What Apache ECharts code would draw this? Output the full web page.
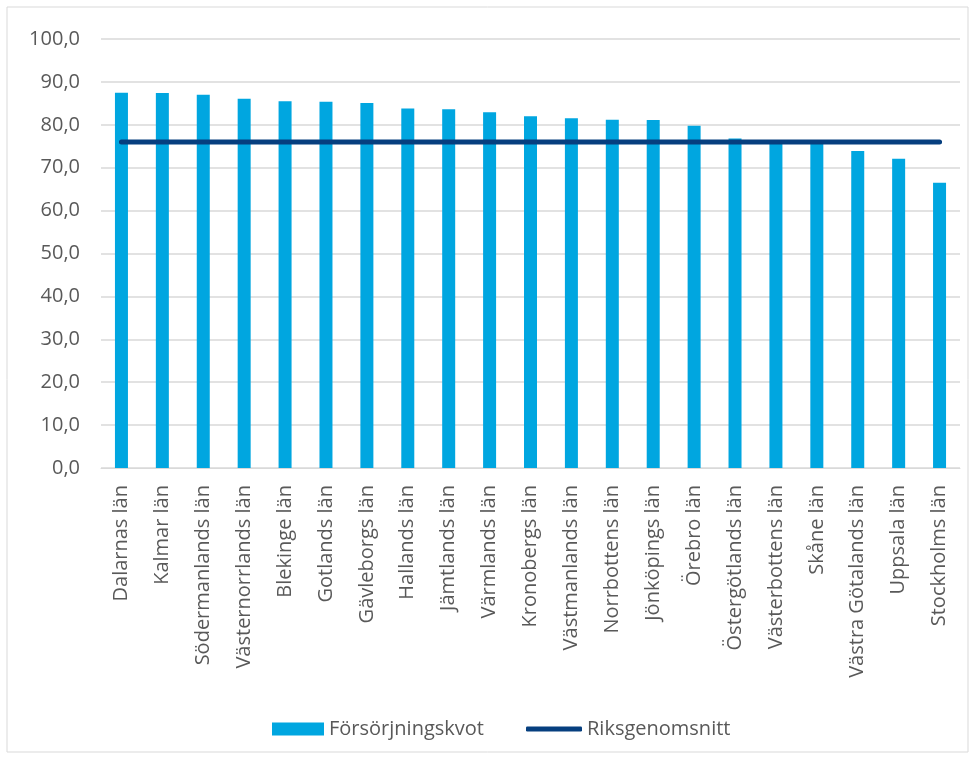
<!DOCTYPE html>
<html>
<head>
<meta charset="utf-8">
<script src="https://cdn.jsdelivr.net/npm/echarts@6/dist/echarts.min.js"></script>
<style>
  html, body { margin: 0; padding: 0; background: #fff; }
  #main { width: 976px; height: 760px; }
</style>
</head>
<body>
<div id="main"></div>
<script>
var lan = ['Dalarnas län', 'Kalmar län', 'Södermanlands län', 'Västernorrlands län', 'Blekinge län',
  'Gotlands län', 'Gävleborgs län', 'Hallands län', 'Jämtlands län', 'Värmlands län',
  'Kronobergs län', 'Västmanlands län', 'Norrbottens län', 'Jönköpings län', 'Örebro län',
  'Östergötlands län', 'Västerbottens län', 'Skåne län', 'Västra Götalands län', 'Uppsala län',
  'Stockholms län'];
var kvot = [87.5, 87.4, 87.0, 86.1, 85.5, 85.4, 85.1, 83.8, 83.6, 82.9,
  82.0, 81.5, 81.2, 81.1, 79.8, 76.8, 76.3, 76.1, 73.9, 72.1, 66.5];
var riksSnitt = 76.0;
var riks = lan.map(function () { return riksSnitt; });

var myChart = echarts.init(document.getElementById('main'));
var txt = '#595959';
var fam = 'Open Sans';
var option = {
  animation: false,
  textStyle: { fontFamily: fam },
  graphic: [{
    type: 'rect',
    shape: { x: 7, y: 7, width: 961, height: 745 },
    style: { fill: 'none', stroke: '#d9d9d9', lineWidth: 1 },
    silent: true
  }],
  grid: { left: 101, right: 16, top: 39, bottom: 292, containLabel: false },
  // två legender, så att linjeikonen kan vara tunnare än stapelikonen
  legend: [{
    left: 267,
    top: 714,
    itemWidth: 52,
    itemHeight: 13,
    textStyle: { color: txt, fontSize: 20, fontFamily: fam },
    data: [{ name: 'Försörjningskvot', icon: 'rect' }]
  }, {
    left: 521,
    top: 714,
    itemWidth: 56,
    itemHeight: 5,
    textStyle: { color: txt, fontSize: 20, fontFamily: fam },
    data: [{ name: 'Riksgenomsnitt', icon: 'roundRect' }]
  }],
  xAxis: {
    type: 'category',
    data: lan,
    axisLine: { lineStyle: { color: '#d9d9d9' } },
    axisTick: { show: false },
    axisLabel: { rotate: 90, color: txt, fontSize: 20, margin: 17, interval: 0 }
  },
  yAxis: {
    type: 'value',
    min: 0, max: 100, interval: 10,
    axisLine: { show: false },
    axisTick: { show: false },
    splitLine: { lineStyle: { color: '#d9d9d9', width: 1.5 } },
    axisLabel: {
      color: txt, fontSize: 20, margin: 21,
      formatter: function (v) { return v.toFixed(1).replace('.', ','); }
    }
  },
  series: [{
    name: 'Försörjningskvot',
    type: 'bar',
    data: kvot,
    barWidth: 13,
    itemStyle: { color: '#00a6e0' }
  }, {
    name: 'Riksgenomsnitt',
    type: 'line',
    data: riks,
    symbol: 'none',
    lineStyle: { color: '#063f7f', width: 5, cap: 'round' },
    itemStyle: { color: '#063f7f' }
  }]
};
myChart.setOption(option);
</script>
</body>
</html>
